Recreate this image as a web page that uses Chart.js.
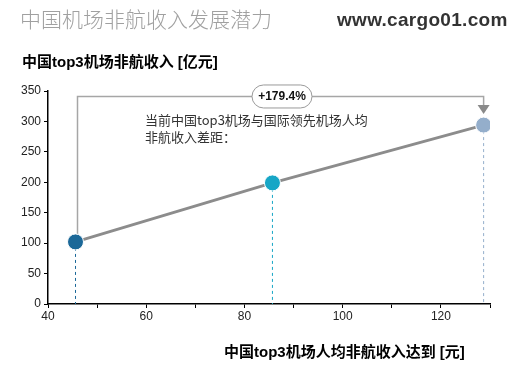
<!DOCTYPE html>
<html><head><meta charset="utf-8">
<script src="https://cdn.jsdelivr.net/npm/chart.js@4/dist/chart.umd.min.js"></script>
<style>
html,body{margin:0;padding:0;background:#fff;}
#wrap{position:relative;width:518px;height:372px;overflow:hidden;font-family:"Liberation Sans","Noto Sans CJK SC",sans-serif;}
canvas{position:absolute;left:0;top:0;}
.t{position:absolute;white-space:nowrap;}
</style></head>
<body><div id="wrap">
<canvas id="c" width="518" height="372"></canvas>
<div class="t" style="left:20px;top:3px;font-size:21px;color:#a0a0a0;font-family:'Noto Sans CJK SC';font-weight:300;">中国机场非航收入发展潜力</div>
<div class="t" style="left:337px;top:9px;font-size:19px;color:#333;font-family:'Liberation Sans';font-weight:bold;letter-spacing:0.3px;">www.cargo01.com</div>
<div class="t" style="left:22px;top:50px;font-size:15px;color:#000;font-family:'Liberation Sans','Noto Sans CJK SC';font-weight:bold;">中国top3机场非航收入 [亿元]</div>
<div class="t" style="left:224px;top:340px;font-size:15px;color:#000;font-family:'Liberation Sans','Noto Sans CJK SC';font-weight:bold;">中国top3机场人均非航收入达到 [元]</div>
<div class="t" style="left:145px;top:111px;font-size:13px;color:#333;line-height:17px;font-family:'Noto Sans CJK SC';">当前中国top3机场与国际领先机场人均<br>非航收入差距：</div>
</div>
<script>
const perCapita = [45.6, 85.7, 128.7];
const revenue = [102, 199, 294];
const pointColors = ['#1b6898', '#17a6c6', '#94aecb'];
const gapLabel = '+179.4%';
const yTicks = [0, 50, 100, 150, 200, 250, 300, 350];

const overlay = {
  id: 'overlay',
  beforeDatasetsDraw(chart) {
    const ctx = chart.ctx, xs = chart.scales.x, ys = chart.scales.y;
    ctx.save();
    ctx.lineWidth = 1;
    ctx.setLineDash([3, 3]);
    perCapita.forEach((v, i) => {
      ctx.strokeStyle = pointColors[i];
      const px = xs.getPixelForValue(v);
      ctx.beginPath();
      ctx.moveTo(px, ys.getPixelForValue(revenue[i]));
      ctx.lineTo(px, ys.getPixelForValue(0));
      ctx.stroke();
    });
    ctx.setLineDash([]);
    const x1 = xs.getPixelForValue(perCapita[0]) + 2;
    const x3 = xs.getPixelForValue(perCapita[2]);
    const yTop = ys.getPixelForValue(341);
    const yTip = ys.getPixelForValue(revenue[2]) - 11;
    ctx.strokeStyle = '#a6a6a6';
    ctx.lineWidth = 1.5;
    ctx.beginPath();
    ctx.moveTo(x1, ys.getPixelForValue(revenue[0]) - 8);
    ctx.lineTo(x1, yTop);
    ctx.lineTo(x3, yTop);
    ctx.lineTo(x3, yTip - 8);
    ctx.stroke();
    ctx.fillStyle = '#8a8a8a';
    ctx.beginPath();
    ctx.moveTo(x3 - 6, yTip - 9);
    ctx.lineTo(x3 + 6, yTip - 9);
    ctx.lineTo(x3, yTip);
    ctx.closePath();
    ctx.fill();
    const cx = 282, w = 60, h = 23, r = 11.5;
    const px0 = cx - w / 2, py0 = yTop - h / 2;
    ctx.beginPath();
    ctx.roundRect(px0, py0, w, h, r);
    ctx.fillStyle = '#fff';
    ctx.fill();
    ctx.strokeStyle = '#9a9a9a';
    ctx.lineWidth = 1;
    ctx.stroke();
    ctx.fillStyle = '#111';
    ctx.font = 'bold 12px "Liberation Sans"';
    ctx.textAlign = 'center';
    ctx.textBaseline = 'middle';
    ctx.fillText(gapLabel, cx, yTop + 0.5);
    ctx.restore();
  }
};

new Chart(document.getElementById('c'), {
  type: 'scatter',
  data: {
    datasets: [{
      data: perCapita.map((x, i) => ({ x, y: revenue[i] })),
      showLine: true,
      borderColor: '#8c8c8c',
      borderWidth: 3,
      pointRadius: 8,
      pointHoverRadius: 8,
      pointBackgroundColor: pointColors,
      pointBorderColor: '#ffffff',
      pointBorderWidth: 1
    }]
  },
  options: {
    responsive: false,
    animation: false,
    events: [],
    layout: { padding: { left: 0, right: 28, top: 91, bottom: 38 } },
    plugins: { legend: { display: false }, tooltip: { enabled: false } },
    scales: {
      x: {
        type: 'linear', min: 40, max: 130,
        afterFit(s) { s.height = 30; },
        border: { color: '#000', width: 1.5 },
        grid: { drawOnChartArea: false, color: '#000', tickLength: 4 },
        ticks: {
          stepSize: 10, color: '#222', font: { size: 12, family: 'Liberation Sans' },
          padding: 1,
          callback: v => (v % 20 === 0 && v < 130) ? v : ''
        }
      },
      y: {
        type: 'linear', min: 0, max: 350,
        afterFit(s) { s.width = 48; },
        afterBuildTicks(s) { s.ticks = yTicks.map(v => ({ value: v })); },
        border: { color: '#000', width: 1.5 },
        grid: { drawOnChartArea: false, color: '#000', tickLength: 4 },
        ticks: { color: '#222', font: { size: 12, family: 'Liberation Sans' }, padding: 3 }
      }
    }
  },
  plugins: [overlay]
});
</script>
</body></html>
